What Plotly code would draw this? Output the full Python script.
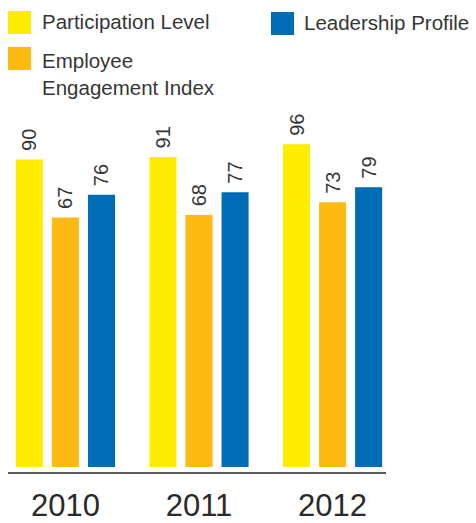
import plotly.graph_objects as go

# ---- data ----
years = ["2010", "2011", "2012"]
series_names = ["Participation Level", "Employee<br>Engagement Index", "Leadership Profile"]
participation = [90, 91, 96]
engagement = [67, 68, 73]
leadership = [76, 77, 79]
series_values = [participation, engagement, leadership]
series_colors = ["#FFED00", "#FDBA13", "#006CB6"]

# ---- layout constants ----
W, H = 476, 523
ML, MR, MT, MB = 8, 90, 100, 51
BASE = -32          # visual baseline of the bars (value units)
YMIN, YMAX = -34, 113.6
TEXT = "#363636"
FONT = "Liberation Sans, Arial, sans-serif"

def xp(px):
    return (px - ML) / (W - ML - MR)

def yp(py):
    return (H - MB - py) / (H - MT - MB)

fig = go.Figure()
for name, vals, col in zip(series_names, series_values, series_colors):
    fig.add_trace(go.Bar(
        x=years,
        y=[v - BASE for v in vals],
        base=[BASE] * len(vals),
        name=name,
        marker=dict(color=col, line=dict(width=0)),
        text=["\u00a0" + str(v) for v in vals],
        textposition="outside",
        textangle=-90,
        constraintext="none",
        cliponaxis=False,
        textfont=dict(family=FONT, size=20, color=TEXT),
        showlegend=False,
    ))

# custom legend (large squares, two-column arrangement)
legend_items = [
    (series_names[0], series_colors[0], 8, 11, 40, 22),
    (series_names[1], series_colors[1], 8, 47, 40, 74),
    (series_names[2], series_colors[2], 271, 12, 302, 23),
]
shapes = []
annotations = []
for name, col, sx, sy, tx, ty in legend_items:
    shapes.append(dict(type="rect", xref="paper", yref="paper",
                       x0=xp(sx), x1=xp(sx + 23), y0=yp(sy), y1=yp(sy + 23),
                       fillcolor=col, line=dict(width=0)))
    annotations.append(dict(xref="paper", yref="paper", x=xp(tx), y=yp(ty),
                            xanchor="left", yanchor="middle", align="left",
                            text=name, showarrow=False,
                            font=dict(family=FONT, size=20.5, color=TEXT)))

fig.update_layout(
    width=W, height=H,
    margin=dict(l=ML, r=MR, t=MT, b=MB, pad=0, autoexpand=False),
    paper_bgcolor="white", plot_bgcolor="white",
    barmode="group", bargap=0.19, bargroupgap=0.25,
    shapes=shapes, annotations=annotations,
    showlegend=False,
    xaxis=dict(type="category", range=[-0.43, 2.40], showgrid=False, zeroline=False,
               automargin=False,
               showline=True, linecolor="#5a5a5a", linewidth=2,
               ticks="outside", ticklen=5, tickcolor="rgba(0,0,0,0)",
               tickfont=dict(family=FONT, size=31, color="#2a2a2a")),
    yaxis=dict(range=[YMIN, YMAX], visible=False, showgrid=False, zeroline=False,
               automargin=False),
)

fig.write_html("out.html")
